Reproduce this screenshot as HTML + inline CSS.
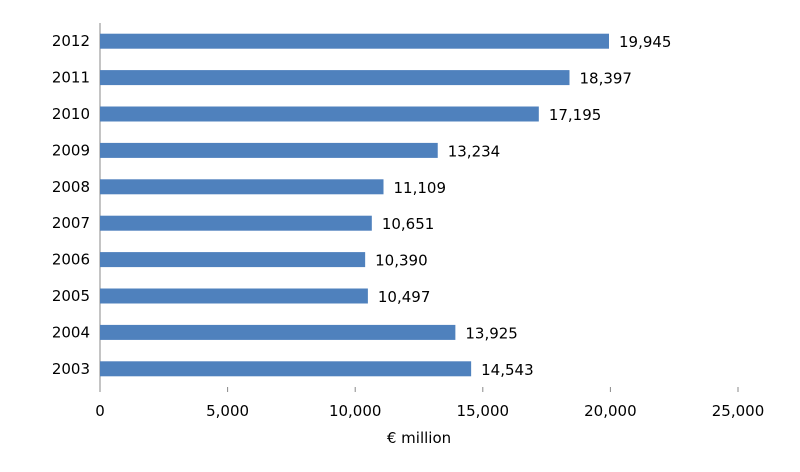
<!DOCTYPE html>
<html><head><meta charset="utf-8"><style>
body{margin:0;background:#fff;}
svg text{font-family:"DejaVu Sans","Liberation Sans",sans-serif;font-size:15px;fill:#000;}
</style></head><body>
<svg id="chart" width="800" height="467"></svg>
<script>
const categories=["2012","2011","2010","2009","2008","2007","2006","2005","2004","2003"];
const values=[19945,18397,17195,13234,11109,10651,10390,10497,13925,14543];
const ticks=[0,5000,10000,15000,20000,25000];
const NS="http://www.w3.org/2000/svg";
const svg=document.getElementById("chart");
const x0=100,x1=738,xmax=25000,plotTop=23,plotBottom=387;
const band=(plotBottom-plotTop)/categories.length,barH=15;
const xs=v=>x0+(x1-x0)*v/xmax;
const fmt=v=>v.toLocaleString("en-US");
function mk(tag,attrs){const e=document.createElementNS(NS,tag);for(const k in attrs)e.setAttribute(k,attrs[k]);svg.appendChild(e);return e;}
const ax=mk("line",{x1:x0,y1:plotTop,x2:x0,y2:plotBottom,stroke:"#888","stroke-width":1});


ticks.forEach(t=>{
  const l=mk("line",{x1:xs(t),y1:plotBottom,x2:xs(t),y2:plotBottom+5,stroke:"#888"});
  
  
  const tx=mk("text",{x:xs(t),y:416,"text-anchor":"middle"});tx.textContent=fmt(t);
  
  
});
categories.forEach((c,i)=>{
  const cy=plotTop+band*(i+0.5);
  const lab=mk("text",{x:90,y:cy+5,"text-anchor":"end"});lab.textContent=c;
  
  
  const r=mk("rect",{x:x0,y:cy-barH/2,width:xs(values[i])-x0,height:barH,fill:"#4f81bd"});
  
  
  const v=mk("text",{x:xs(values[i])+10,y:cy+6});v.textContent=fmt(values[i]);
  
  
});
const t=mk("text",{x:419,y:443,"text-anchor":"middle"});t.textContent="€ million";


</script>
</body></html>
